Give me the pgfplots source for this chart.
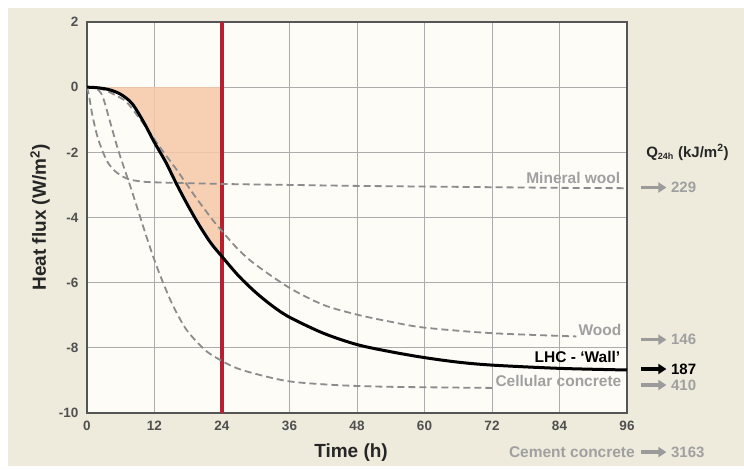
\documentclass[border=0pt]{standalone}
\usepackage{fontspec}
\setmainfont{Liberation Sans}
\usepackage{pgfplots}
\usepackage{pgfplotstable}
\pgfplotsset{compat=1.18}
\usetikzlibrary{arrows.meta}

\definecolor{bgbeige}{RGB}{238,234,220}
\definecolor{plotbg}{RGB}{253,252,247}
\definecolor{gridgray}{RGB}{172,172,172}
\definecolor{framegray}{RGB}{85,85,85}
\definecolor{ticktext}{RGB}{80,80,80}
\definecolor{lightlabel}{RGB}{160,160,160}
\definecolor{dashgray}{RGB}{140,140,140}
\definecolor{arrowgray}{RGB}{155,155,155}
\definecolor{peach}{RGB}{246,200,168}
\definecolor{deadline}{RGB}{182,32,48}

% heat flux curves (t in h, flux in W/m^2)
\pgfplotstableread{
t v
0 0
2 -0.02
4 -0.08
6 -0.22
8 -0.5
10 -1.05
12 -1.7
14 -2.3
16 -3.0
18 -3.65
20 -4.25
22 -4.78
24 -5.2
27 -5.8
30 -6.3
33 -6.72
36 -7.06
42 -7.55
48 -7.9
54 -8.12
60 -8.3
66 -8.44
72 -8.53
84 -8.63
96 -8.68
}\wallLHC

\pgfplotstableread{
t v
0 0
1 -0.01
3 -0.08
5 -0.24
7 -0.45
9 -0.88
11 -1.35
13 -1.85
16 -2.55
19 -3.3
22 -4.0
24 -4.42
27 -5.0
30 -5.45
36 -6.16
42 -6.68
48 -6.98
54 -7.2
60 -7.38
72 -7.55
87 -7.65
}\wood

\pgfplotstableread{
t v
0 0
0.4 -0.3
1 -0.9
2 -1.6
3.5 -2.25
5 -2.58
7 -2.8
9 -2.88
12 -2.92
24 -2.97
36 -3.0
48 -3.03
60 -3.05
72 -3.07
84 -3.09
96 -3.1
}\mineral

\pgfplotstableread{
t v
0 0
1.5 -0.03
2.7 -0.25
4 -1.0
5.4 -1.85
6.6 -2.48
8 -3.2
10.5 -4.55
12.5 -5.55
15 -6.6
17.5 -7.4
20 -7.9
22 -8.2
26 -8.58
30 -8.8
36 -9.03
44 -9.14
52 -9.19
60 -9.21
72 -9.23
}\cellular

\begin{document}
\begin{tikzpicture}
\path[use as bounding box, fill=white] (-87pt,-56pt) rectangle (657pt,413pt);
\fill[bgbeige] (-79pt,-53pt) rectangle (657pt,405pt);
\begin{axis}[
  scale only axis, width=540pt, height=391pt,
  xmin=0, xmax=96, ymin=-10, ymax=2,
  xtick={0,12,...,96}, ytick={-10,-8,...,2},
  grid=major, grid style={gridgray, line width=1pt},
  major tick length=0pt,
  axis line style={framegray, line width=1.8pt},
  axis background/.style={fill=plotbg},
  /pgf/number format/assume math mode=true,
  ticklabel style={font=\fontsize{13.5}{15}\selectfont\bfseries, text=ticktext},
  xticklabel style={yshift=-5pt},
  yticklabel style={xshift=-5pt},
  xlabel={Time (h)},
  ylabel={Heat flux (W/m\textsuperscript{2})},
  label style={font=\fontsize{19}{21}\selectfont\bfseries, text=black!85},
  xlabel style={at={(axis description cs:0.489,-0.1)}, anchor=center},
  ylabel style={at={(axis description cs:-0.087,0.5)}, anchor=center},
  clip=false,
]
  \addplot[draw=none, fill=peach, fill opacity=0.85, smooth,
    restrict x to domain=0:24] table {\wallLHC} \closedcycle;
  \addplot[deadline, line width=4pt] coordinates {(24,-10) (24,2)};
  \addplot[dashgray, line width=1.8pt, dash pattern=on 7pt off 4pt, smooth] table {\mineral};
  \addplot[dashgray, line width=1.8pt, dash pattern=on 7pt off 4pt, smooth] table {\wood};
  \addplot[dashgray, line width=1.8pt, dash pattern=on 7pt off 4pt, smooth] table {\cellular};
  \addplot[black, line width=3pt, smooth] table {\wallLHC};

  % curve labels
  \begin{scope}[every node/.style={font=\fontsize{15.5}{17}\selectfont\bfseries, inner sep=1pt}]
    \node[anchor=east, text=lightlabel] at (axis cs:95,-2.8) {Mineral wool};
    \node[anchor=east, text=lightlabel] at (axis cs:95.2,-7.45) {Wood};
    \node[anchor=east, text=black] at (axis cs:95,-8.28) {LHC - `Wall'};
    \node[anchor=east, text=lightlabel] at (axis cs:95.2,-9.02) {Cellular concrete};
    \node[anchor=east, text=lightlabel] at (axis cs:97.6,-11.2) {Cement concrete};
  \end{scope}

  % Q24h column
  \node[anchor=west, font=\fontsize{15}{17}\selectfont\bfseries, text=black!85]
    at (axis cs:98.8,-2.0) {Q\textsubscript{\fontsize{9}{10}\selectfont 24h} (kJ/m\textsuperscript{2})};
  \begin{scope}[every node/.style={anchor=west, font=\fontsize{15}{17}\selectfont\bfseries, inner sep=1pt}]
    \draw[arrowgray, line width=3.5pt, -{Triangle[length=8pt,width=10pt]}]
      (axis cs:98.4,-3.08) -- (axis cs:103,-3.08) node[right, text=lightlabel, xshift=2pt] {229};
    \draw[arrowgray, line width=3.5pt, -{Triangle[length=8pt,width=10pt]}]
      (axis cs:98.4,-7.75) -- (axis cs:103,-7.75) node[right, text=lightlabel, xshift=2pt] {146};
    \draw[black, line width=3.5pt, -{Triangle[length=8pt,width=10pt]}]
      (axis cs:98.4,-8.65) -- (axis cs:103,-8.65) node[right, text=black, xshift=2pt] {187};
    \draw[arrowgray, line width=3.5pt, -{Triangle[length=8pt,width=10pt]}]
      (axis cs:98.4,-9.14) -- (axis cs:103,-9.14) node[right, text=lightlabel, xshift=2pt] {410};
    \draw[arrowgray, line width=3.5pt, -{Triangle[length=8pt,width=10pt]}]
      (axis cs:98.4,-11.2) -- (axis cs:103,-11.2) node[right, text=lightlabel, xshift=2pt] {3163};
  \end{scope}
\end{axis}
\end{tikzpicture}
\end{document}
